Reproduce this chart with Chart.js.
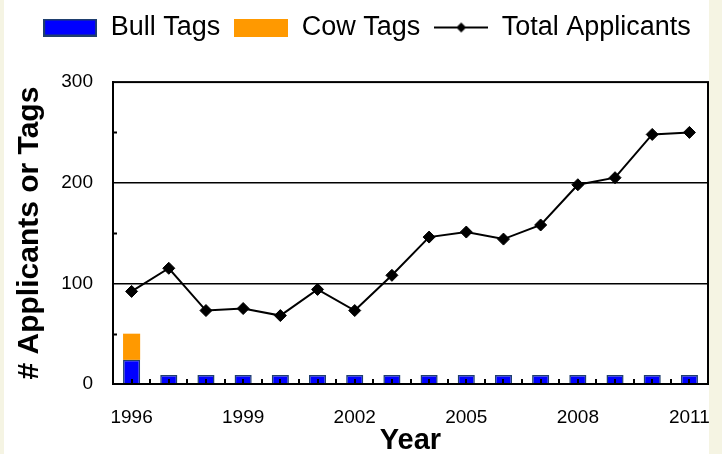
<!DOCTYPE html>
<html>
<head>
<meta charset="utf-8">
<script src="https://cdn.jsdelivr.net/npm/chart.js@4.4.1/dist/chart.umd.min.js"></script>
<style>
  html, body { margin: 0; padding: 0; background: #f5f4e3; }
  #wrap { width: 722px; height: 454px; }
</style>
</head>
<body>
<div id="wrap"><canvas id="c" width="722" height="454"></canvas></div>
<script>
// Applicants and tags issued per year
const years = ['1996','1997','1998','1999','2000','2001','2002','2003',
               '2004','2005','2006','2007','2008','2009','2010','2011'];
const bullTags = [24, 9, 9, 9, 9, 9, 9, 9, 9, 9, 9, 9, 9, 9, 9, 9];
const cowTags = [26, 0, 0, 0, 0, 0, 0, 0, 0, 0, 0, 0, 0, 0, 0, 0];
const totalApplicants = [92, 115, 73, 75, 68, 94, 73, 108, 146, 151, 144, 158, 198, 205, 248, 250];
const yTicks = [0, 100, 200, 300];

const FONT = "'Liberation Sans', Arial, Helvetica, sans-serif";
const CREAM = '#f5f4e3';
const BULL = '#0000ff';
const BULL_EDGE = '#1f3f6e';
const COW = '#ff9900';

// Small canvases used as legend symbols
function swatch(fill, edge) {
  const c = document.createElement('canvas');
  c.width = 54; c.height = 18;
  const g = c.getContext('2d');
  g.fillStyle = fill;
  g.fillRect(0, 0, 54, 18);
  if (edge) { g.strokeStyle = edge; g.lineWidth = 2; g.strokeRect(1, 1, 52, 16); }
  return c;
}
function lineSymbol() {
  const c = document.createElement('canvas');
  c.width = 54; c.height = 18;
  const g = c.getContext('2d');
  g.strokeStyle = '#000'; g.lineWidth = 2;
  g.beginPath(); g.moveTo(0, 9); g.lineTo(54, 9); g.stroke();
  g.fillStyle = '#000';
  g.beginPath(); g.moveTo(27, 4); g.lineTo(32, 9); g.lineTo(27, 14); g.lineTo(22, 9); g.closePath(); g.fill();
  return c;
}

// Page background with the white panel
const panel = {
  id: 'panel',
  beforeDraw(chart) {
    const {ctx, width, height} = chart;
    ctx.save();
    ctx.fillStyle = CREAM;
    ctx.fillRect(0, 0, width, height);
    ctx.fillStyle = '#ffffff';
    ctx.fillRect(4, 0, 705, height);
    ctx.restore();
  }
};

// Inward tick marks and the plot frame
const frame = {
  id: 'frame',
  afterDatasetsDraw(chart) {
    const {ctx, chartArea: a, scales: {x, y}} = chart;
    ctx.save();
    ctx.strokeStyle = '#000';
    ctx.lineWidth = 2;
    ctx.beginPath();
    for (let i = 0; i < yTicks.length - 1; i++) {
      const py = Math.round(y.getPixelForValue((yTicks[i] + yTicks[i + 1]) / 2)) + 0.5;
      ctx.moveTo(a.left, py); ctx.lineTo(a.left + 4, py);
    }
    years.forEach((_, i) => {
      const px = Math.round(x.getPixelForValue(i));
      ctx.moveTo(px, a.bottom); ctx.lineTo(px, a.bottom - 5);
      if (i > 0) {
        const pb = Math.round((x.getPixelForValue(i - 1) + x.getPixelForValue(i)) / 2);
        ctx.moveTo(pb, a.bottom); ctx.lineTo(pb, a.bottom - 5);
      }
    });
    ctx.stroke();
    ctx.lineWidth = 2;
    ctx.strokeRect(a.left, a.top, a.right - a.left, a.bottom - a.top);
    ctx.restore();
  }
};

new Chart(document.getElementById('c'), {
  data: {
    labels: years,
    datasets: [
      {
        type: 'line',
        label: 'Total Applicants',
        data: totalApplicants,
        stack: 'applicants',
        order: 0,
        borderColor: '#000',
        backgroundColor: '#000',
        borderWidth: 2,
        tension: 0,
        pointStyle: 'rectRot',
        pointRadius: 6,
        pointHoverRadius: 6,
        pointBackgroundColor: '#000',
        pointBorderColor: '#000',
        pointBorderWidth: 1
      },
      {
        type: 'bar',
        label: 'Bull Tags',
        data: bullTags,
        stack: 'tags',
        order: 1,
        backgroundColor: BULL,
        borderColor: BULL_EDGE,
        borderWidth: 1.5,
        barPercentage: 0.46,
        categoryPercentage: 1
      },
      {
        type: 'bar',
        label: 'Cow Tags',
        data: cowTags,
        stack: 'tags',
        order: 1,
        backgroundColor: COW,
        borderWidth: 0,
        barPercentage: 0.46,
        categoryPercentage: 1
      }
    ]
  },
  options: {
    responsive: false,
    animation: false,
    events: [],
    layout: { padding: { top: 0, left: 26, right: 14, bottom: 0 } },
    plugins: {
      tooltip: { enabled: false },
      // empty spacer between the legend and the plot
      title: { display: true, text: '', weight: 500, font: { size: 8 }, padding: { top: 10, bottom: 11.5 } },
      legend: {
        position: 'top',
        labels: {
          usePointStyle: true,
          pointStyleWidth: 54,
          padding: 14,
          color: '#000',
          font: { family: FONT, size: 27 },
          generateLabels: () => [
            { text: 'Bull Tags', pointStyle: swatch(BULL, BULL_EDGE), fillStyle: BULL, strokeStyle: BULL_EDGE, lineWidth: 0, hidden: false, datasetIndex: 1 },
            { text: 'Cow Tags', pointStyle: swatch(COW), fillStyle: COW, strokeStyle: COW, lineWidth: 0, hidden: false, datasetIndex: 2 },
            { text: 'Total Applicants', pointStyle: lineSymbol(), fillStyle: '#000', strokeStyle: '#000', lineWidth: 0, hidden: false, datasetIndex: 0 }
          ]
        }
      }
    },
    scales: {
      x: {
        stacked: true,
        offset: true,
        grid: { display: false, drawTicks: false },
        border: { display: true, color: '#000', width: 2 },
        ticks: {
          autoSkip: false,
          maxRotation: 0,
          padding: 22,
          color: '#000',
          font: { family: FONT, size: 19 },
          callback: (v, i) => (i % 3 === 0 ? years[i] : '')
        },
        title: {
          display: true,
          text: 'Year',
          color: '#000',
          font: { family: FONT, size: 29, weight: 'bold' },
          padding: { top: 0, bottom: -4 }
        },
        afterFit: (s) => { s.height = 70; s.paddingLeft = 0; s.paddingRight = 0; }
      },
      y: {
        stacked: true,
        min: 0,
        max: 300,
        grid: {
          drawTicks: false,
          lineWidth: 1.5,
          color: (ctx) => (ctx.tick && (ctx.tick.value === 100 || ctx.tick.value === 200) ? '#000' : 'rgba(0,0,0,0)')
        },
        border: { display: true, color: '#000', width: 2 },
        ticks: {
          stepSize: 100,
          padding: 20,
          color: '#000',
          font: { family: FONT, size: 19 }
        },
        title: {
          display: true,
          text: '# Applicants or Tags',
          color: '#000',
          font: { family: FONT, size: 30, weight: 'bold' },
          padding: { top: -14, bottom: 0 }
        },
        afterFit: (s) => { s.width = 87; }
      }
    }
  },
  plugins: [panel, frame]
});
</script>
</body>
</html>
